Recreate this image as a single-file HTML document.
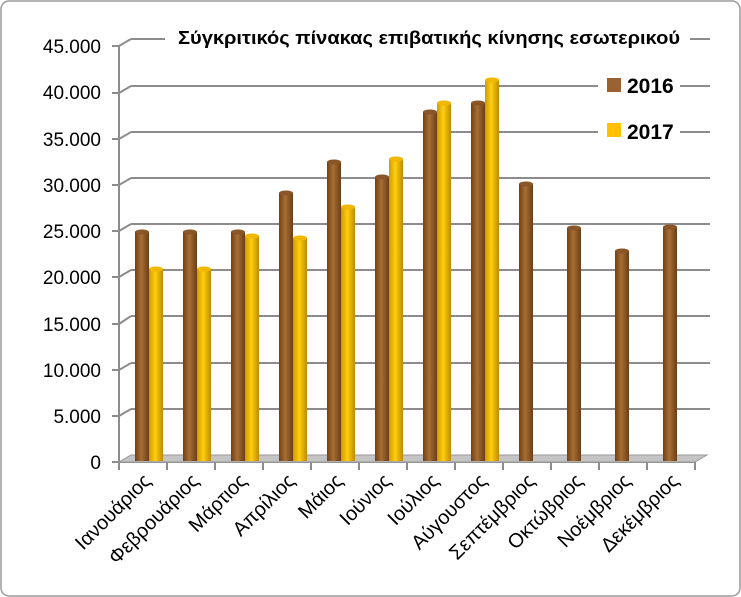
<!DOCTYPE html>
<html><head><meta charset="utf-8"><style>
html,body{margin:0;padding:0;background:#fff;}
svg{display:block;font-family:"Liberation Sans",sans-serif;}
</style></head><body>
<svg width="741" height="597" viewBox="0 0 741 597" xmlns="http://www.w3.org/2000/svg">
<defs>
<linearGradient id="br" x1="0" x2="1" y1="0" y2="0">
<stop offset="0" stop-color="#6e4118"/><stop offset="0.45" stop-color="#a86e34"/><stop offset="1" stop-color="#6a3e16"/>
</linearGradient>
<linearGradient id="gd" x1="0" x2="1" y1="0" y2="0">
<stop offset="0" stop-color="#d09a00"/><stop offset="0.45" stop-color="#ffcf10"/><stop offset="1" stop-color="#c08a00"/>
</linearGradient>
</defs>
<rect x="1" y="1" width="739" height="595" rx="8" fill="#fff" stroke="#9a9a9a" stroke-width="1.5"/>
<g stroke="#8c8c8c" stroke-width="2" fill="none">
<path d="M131 409H710M131 363H710M131 316H710M131 270H710M131 224H710M131 178H710M131 132H710M131 86H710M131 39H710"/>
<path d="M119 416l12-7M119 370l12-7M119 324l12-8M119 277l12-7M119 231l12-7M119 185l12-7M119 139l12-7M119 93l12-7M119 46l12-7"/>
<path d="M119 46V462M112 46h7M112 93h7M112 139h7M112 185h7M112 231h7M112 277h7M112 324h7M112 370h7M112 416h7M112 462h7"/>
<path d="M119 462H695M119 462v8M167 462v8M215 462v8M263 462v8M311 462v8M359 462v8M407 462v8M455 462v8M503 462v8M551 462v8M599 462v8M647 462v8M695 462v8"/>
</g>
<polygon points="119,462 695,462 707,455 131,455" fill="#c4c4c4" stroke="#9a9a9a"/>
<rect x="165" y="25" width="525" height="26" fill="#fff"/>
<rect x="590" y="70" width="115" height="80" fill="#fff"/>
<path d="M131 86H598M680 86H710M131 132H598M680 132H710" stroke="#8c8c8c" stroke-width="2"/>
<text x="178" y="44" font-size="18" font-weight="bold" textLength="502" lengthAdjust="spacingAndGlyphs">Σύγκριτικός πίνακας επιβατικής κίνησης εσωτερικού</text>
<rect x="607" y="78" width="14" height="14" fill="#9a6232"/>
<rect x="607" y="123" width="14" height="14" fill="#ffc000"/>
<text x="627" y="93" font-size="21" font-weight="bold">2016</text>
<text x="627" y="139" font-size="21" font-weight="bold">2017</text>
<g font-size="19" text-anchor="end">
<text x="101" y="53">45.000</text><text x="101" y="99">40.000</text><text x="101" y="146">35.000</text>
<text x="101" y="192">30.000</text><text x="101" y="238">25.000</text><text x="101" y="284">20.000</text>
<text x="101" y="331">15.000</text><text x="101" y="377">10.000</text><text x="101" y="423">5.000</text>
<text x="101" y="469">0</text>
</g>
<g fill="url(#br)">
<rect x="135" y="232" width="14" height="229"/><rect x="183" y="232" width="14" height="229"/>
<rect x="231" y="232" width="14" height="229"/><rect x="279" y="193" width="14" height="268"/>
<rect x="327" y="162" width="14" height="299"/><rect x="375" y="177" width="14" height="284"/>
<rect x="423" y="112" width="14" height="349"/><rect x="471" y="103" width="14" height="358"/>
<rect x="519" y="184" width="14" height="277"/><rect x="567" y="228" width="14" height="233"/>
<rect x="615" y="251" width="14" height="210"/><rect x="663" y="227" width="14" height="234"/>
</g>
<g fill="#8a5628">
<ellipse cx="142" cy="232" rx="7" ry="2.5"/><ellipse cx="190" cy="232" rx="7" ry="2.5"/>
<ellipse cx="238" cy="232" rx="7" ry="2.5"/><ellipse cx="286" cy="193" rx="7" ry="2.5"/>
<ellipse cx="334" cy="162" rx="7" ry="2.5"/><ellipse cx="382" cy="177" rx="7" ry="2.5"/>
<ellipse cx="430" cy="112" rx="7" ry="2.5"/><ellipse cx="478" cy="103" rx="7" ry="2.5"/>
<ellipse cx="526" cy="184" rx="7" ry="2.5"/><ellipse cx="574" cy="228" rx="7" ry="2.5"/>
<ellipse cx="622" cy="251" rx="7" ry="2.5"/><ellipse cx="670" cy="227" rx="7" ry="2.5"/>
</g>
<g fill="url(#gd)">
<rect x="149" y="269" width="14" height="192"/><rect x="197" y="269" width="14" height="192"/>
<rect x="245" y="236" width="14" height="225"/><rect x="293" y="238" width="14" height="223"/>
<rect x="341" y="207" width="14" height="254"/><rect x="389" y="159" width="14" height="302"/>
<rect x="437" y="103" width="14" height="358"/><rect x="485" y="80" width="14" height="381"/>
</g>
<g fill="#f0b800">
<ellipse cx="156" cy="269" rx="7" ry="2.5"/><ellipse cx="204" cy="269" rx="7" ry="2.5"/>
<ellipse cx="252" cy="236" rx="7" ry="2.5"/><ellipse cx="300" cy="238" rx="7" ry="2.5"/>
<ellipse cx="348" cy="207" rx="7" ry="2.5"/><ellipse cx="396" cy="159" rx="7" ry="2.5"/>
<ellipse cx="444" cy="103" rx="7" ry="2.5"/><ellipse cx="492" cy="80" rx="7" ry="2.5"/>
</g>
<g font-size="20" text-anchor="end">
<text transform="translate(152,482) rotate(-45)">Ιανουάριος</text>
<text transform="translate(200,482) rotate(-45)">Φεβρουάριος</text>
<text transform="translate(248,482) rotate(-45)">Μάρτιος</text>
<text transform="translate(296,482) rotate(-45)">Απρίλιος</text>
<text transform="translate(344,482) rotate(-45)">Μάιος</text>
<text transform="translate(392,482) rotate(-45)">Ιούνιος</text>
<text transform="translate(440,482) rotate(-45)">Ιούλιος</text>
<text transform="translate(488,482) rotate(-45)">Αύγουστος</text>
<text transform="translate(536,482) rotate(-45)">Σεπτέμβριος</text>
<text transform="translate(584,482) rotate(-45)">Οκτώβριος</text>
<text transform="translate(632,482) rotate(-45)">Νοέμβριος</text>
<text transform="translate(680,482) rotate(-45)">Δεκέμβριος</text>
</g>
</svg>
</body></html>
